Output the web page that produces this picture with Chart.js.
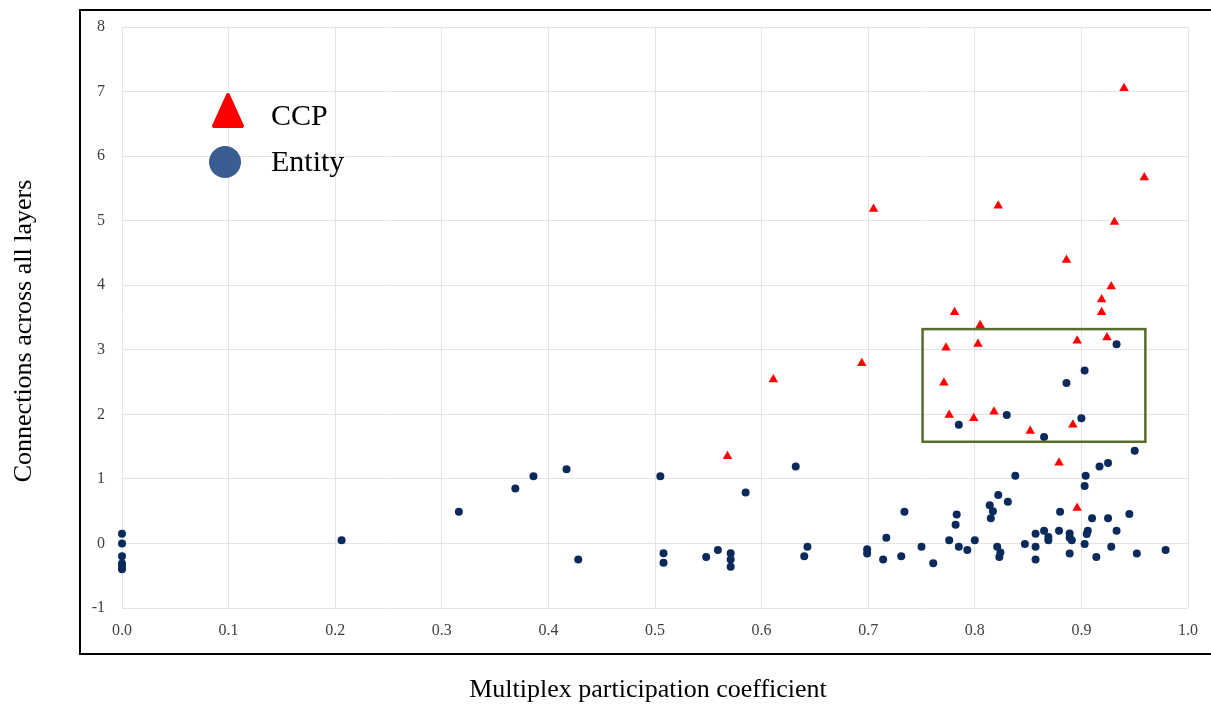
<!DOCTYPE html>
<html>
<head>
<meta charset="utf-8">
<script src="https://cdn.jsdelivr.net/npm/chart.js@4"></script>
<style>
  body { margin: 0; background: #fff; }
  canvas { display: block; }
</style>
</head>
<body>
<canvas id="mpcChart" width="1211" height="706"></canvas>
<script>
// values
const ccpX = [0.940, 0.959, 0.705, 0.822, 0.931, 0.886, 0.928, 0.919, 0.919, 0.781, 0.805, 0.773, 0.803,
              0.896, 0.924, 0.694, 0.611, 0.771, 0.776, 0.799, 0.818, 0.852, 0.892, 0.568, 0.879, 0.896];
const ccpY = [7.05, 5.67, 5.18, 5.23, 4.98, 4.39, 3.98, 3.78, 3.58, 3.58, 3.38, 3.03, 3.09,
              3.14, 3.19, 2.79, 2.54, 2.49, 1.99, 1.94, 2.04, 1.74, 1.84, 1.35, 1.25, 0.55];

const entityX = [0, 0, 0, 0, 0, 0,
                 0.206, 0.316, 0.369, 0.386, 0.417, 0.428,
                 0.505, 0.508, 0.508, 0.548, 0.559, 0.571, 0.571, 0.571, 0.585,
                 0.632, 0.643, 0.640, 0.699, 0.699, 0.717, 0.714, 0.734, 0.731, 0.750, 0.761,
                 0.776, 0.783, 0.782, 0.785, 0.793, 0.800,
                 0.814, 0.817, 0.815, 0.822, 0.831, 0.838, 0.821, 0.824, 0.823, 0.847, 0.857,
                 0.857, 0.857, 0.865, 0.869, 0.869, 0.879, 0.880, 0.889, 0.889, 0.891, 0.889,
                 0.903, 0.906, 0.905, 0.910, 0.914, 0.903, 0.904, 0.917, 0.925, 0.950, 0.925,
                 0.933, 0.928, 0.945, 0.952, 0.979,
                 0.933, 0.903, 0.886, 0.830, 0.900, 0.785, 0.865];
const entityY = [0.15, 0, -0.2, -0.31, -0.36, -0.40,
                 0.05, 0.49, 0.85, 1.04, 1.15, -0.25,
                 1.04, -0.15, -0.30, -0.21, -0.10, -0.15, -0.25, -0.36, 0.79,
                 1.19, -0.05, -0.20, -0.09, -0.155, 0.09, -0.25, 0.49, -0.20, -0.05, -0.305,
                 0.05, 0.45, 0.29, -0.05, -0.10, 0.05,
                 0.59, 0.50, 0.39, 0.75, 0.645, 1.05, -0.05, -0.14, -0.21, -0.01, -0.05,
                 0.15, -0.25, 0.195, 0.05, 0.10, 0.195, 0.49, 0.155, 0.09, 0.05, -0.155,
                 -0.01, 0.195, 0.145, 0.39, -0.21, 0.89, 1.05, 1.19, 1.245, 1.435, 0.39,
                 0.195, -0.05, 0.455, -0.155, -0.10,
                 3.085, 2.68, 2.485, 1.99, 1.94, 1.84, 1.65];

const xTickLabels = ['0.0', '0.1', '0.2', '0.3', '0.4', '0.5', '0.6', '0.7', '0.8', '0.9', '1.0'];
const yTickLabels = ['-1', '0', '1', '2', '3', '4', '5', '6', '7', '8'];

// highlighted region (data units)
const boxX = [0.751, 0.960];
const boxY = [1.575, 3.32];

const serif = '"Liberation Serif", "Times New Roman", serif';

const toPoints = (xs, ys) => xs.map((x, i) => ({ x, y: ys[i] }));

// frame, titles, legend and highlight box
const decorPlugin = {
    id: 'decor',
    afterDatasetsDraw(chart) {
        const { ctx, scales: { x, y } } = chart;
        ctx.save();

        // green highlight box
        ctx.strokeStyle = '#566d2c';
        ctx.lineWidth = 2.5;
        const bx0 = x.getPixelForValue(boxX[0]), bx1 = x.getPixelForValue(boxX[1]);
        const by0 = y.getPixelForValue(boxY[1]), by1 = y.getPixelForValue(boxY[0]);
        ctx.strokeRect(bx0, by0, bx1 - bx0, by1 - by0);

        // outer frame (open on the right)
        ctx.strokeStyle = '#000';
        ctx.lineWidth = 2;
        ctx.beginPath();
        ctx.moveTo(1211, 10);
        ctx.lineTo(80, 10);
        ctx.lineTo(80, 654);
        ctx.lineTo(1211, 654);
        ctx.stroke();

        // legend
        ctx.fillStyle = '#ff0000';
        ctx.strokeStyle = '#ff0000';
        ctx.lineJoin = 'round';
        ctx.lineWidth = 4;
        ctx.beginPath();
        ctx.moveTo(228, 95);
        ctx.lineTo(242, 126);
        ctx.lineTo(214, 126);
        ctx.closePath();
        ctx.fill();
        ctx.stroke();

        ctx.fillStyle = '#3a5e91';
        ctx.beginPath();
        ctx.arc(225, 162, 16, 0, Math.PI * 2);
        ctx.fill();

        ctx.fillStyle = '#000';
        ctx.font = '30px ' + serif;
        ctx.textAlign = 'left';
        ctx.textBaseline = 'middle';
        ctx.fillText('CCP', 271, 117);
        ctx.fillText('Entity', 271, 163);

        // axis titles
        ctx.font = '26px ' + serif;
        ctx.textAlign = 'center';
        ctx.fillText('Multiplex participation coefficient', 648, 690);
        ctx.translate(24, 331);
        ctx.rotate(-Math.PI / 2);
        ctx.fillText('Connections across all layers', 0, 0);

        ctx.restore();
    }
};

const ctx = document.getElementById('mpcChart').getContext('2d');
new Chart(ctx, {
    type: 'scatter',
    data: {
        datasets: [
            {
                label: 'Entity',
                data: toPoints(entityX, entityY),
                pointStyle: 'circle',
                pointRadius: 4,
                backgroundColor: '#0b2a5c',
                borderColor: '#0b2a5c',
                borderWidth: 0,
                clip: false
            },
            {
                label: 'CCP',
                data: toPoints(ccpX, ccpY),
                pointStyle: 'triangle',
                pointRadius: 5.5,
                backgroundColor: '#ff0000',
                borderColor: '#ff0000',
                borderWidth: 0,
                clip: false
            }
        ]
    },
    options: {
        responsive: false,
        animation: false,
        layout: { padding: { top: 27, right: 23, left: 0, bottom: 0 } },
        plugins: { legend: { display: false }, tooltip: { enabled: false } },
        scales: {
            x: {
                type: 'linear',
                min: 0,
                max: 1,
                ticks: {
                    stepSize: 0.1,
                    padding: 13,
                    color: '#404040',
                    font: { family: serif, size: 16 },
                    callback: (v, i) => xTickLabels[i]
                },
                grid: { color: '#e4e4e4', lineWidth: 1, drawTicks: false },
                border: { display: false },
                afterFit: s => { s.height = 98; }
            },
            y: {
                min: -1,
                max: 8,
                ticks: {
                    stepSize: 1,
                    padding: 17,
                    color: '#404040',
                    font: { family: serif, size: 16 },
                    callback: (v, i) => yTickLabels[i]
                },
                grid: { color: '#e4e4e4', lineWidth: 1, drawTicks: false },
                border: { display: false },
                afterFit: s => { s.width = 122; }
            }
        }
    },
    plugins: [decorPlugin]
});
</script>
</body>
</html>
